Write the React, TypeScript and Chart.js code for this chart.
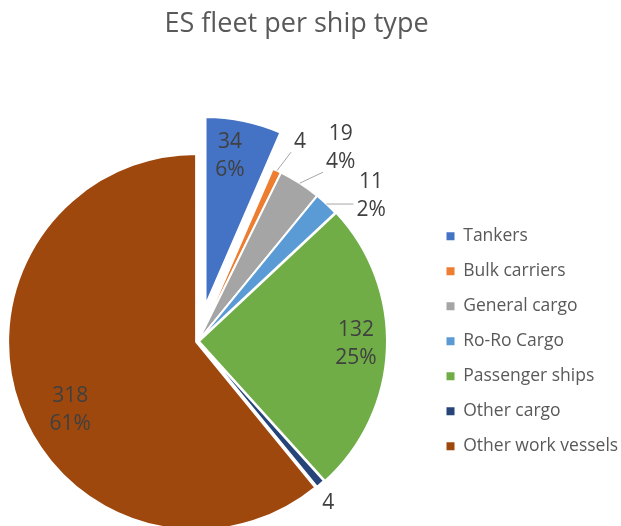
import React, { useEffect, useRef } from "react";
import { Chart, registerables } from "chart.js";

Chart.register(...registerables);

const titleText = "ES fleet per ship type";
const categories = [
  "Tankers",
  "Bulk carriers",
  "General cargo",
  "Ro-Ro Cargo",
  "Passenger ships",
  "Other cargo",
  "Other work vessels",
];
const shipCounts = [34, 4, 19, 11, 132, 4, 318];
const percentLabels = ["6%", "", "4%", "2%", "25%", "", "61%"];
const sliceColors = ["#4472C4", "#ED7D31", "#A5A5A5", "#5B9BD5", "#70AD47", "#264478", "#9E480E"];
const explodeOffsets = [37, 0, 0, 0, 1, 0, 2];
// label placement: radius as fraction of outer radius, angular tweak in degrees, leader line
const labelPlacement = [
  { r: 0.803, da: -2.4, leader: false },
  { r: 1.19, da: 2.3, leader: true },
  { r: 1.277, da: 3.7, leader: true },
  { r: 1.202, da: 6.9, leader: true },
  { r: 0.835, da: -1.3, leader: false },
  { r: 1.106, da: 1.9, leader: false },
  { r: 0.761, da: -8.7, leader: false },
];

const FONT = "'Open Sans', 'Noto Sans', sans-serif";
const CANVAS_W = 621;
const CANVAS_H = 526;
const PIE_CENTER_X = 198;
const LEGEND_LEFT = 429;
const TITLE_CENTER_X = 297;
const TITLE_SIZE = 27;

const explodePlugin = {
  id: "explodeSlices",
  afterDatasetsUpdate(chart: any) {
    const meta = chart.getDatasetMeta(0);
    meta.data.forEach((arc: any, i: number) => {
      const d = explodeOffsets[i];
      if (!d) return;
      const mid = (arc.startAngle + arc.endAngle) / 2;
      arc.x += Math.cos(mid) * d;
      arc.y += Math.sin(mid) * d;
    });
  },
};

const labelPlugin = {
  id: "sliceLabels",
  afterDatasetsDraw(chart: any) {
    const ctx = chart.ctx;
    const meta = chart.getDatasetMeta(0);
    ctx.save();
    ctx.font = `21px ${FONT}`;
    ctx.textAlign = "center";
    ctx.textBaseline = "middle";
    const lh = 28;
    meta.data.forEach((arc: any, i: number) => {
      const spec = labelPlacement[i];
      const { x, y, startAngle, endAngle, outerRadius } = arc;
      const mid = (startAngle + endAngle) / 2;
      const a = mid + (spec.da * Math.PI) / 180;
      const lx = x + Math.cos(a) * spec.r * outerRadius;
      const ly = y + Math.sin(a) * spec.r * outerRadius;
      const lines = [String(shipCounts[i]), percentLabels[i]].filter((t) => t);
      if (spec.leader) {
        const w = Math.max(...lines.map((t) => ctx.measureText(t).width));
        const h = lines.length * lh;
        const bx0 = lx - w / 2 - 3;
        const bx1 = lx + w / 2 + 3;
        const by0 = ly - h / 2 + 4;
        const by1 = ly + h / 2 - 4;
        const sx = x + Math.cos(mid) * outerRadius;
        const sy = y + Math.sin(mid) * outerRadius;
        const ex = Math.min(Math.max(sx, bx0), bx1);
        const ey = Math.min(Math.max(sy, by0), by1);
        ctx.strokeStyle = "#A6A6A6";
        ctx.lineWidth = 1;
        ctx.beginPath();
        ctx.moveTo(sx, sy);
        ctx.lineTo(ex, ey);
        ctx.stroke();
      }
      ctx.fillStyle = "#404040";
      const top = ly - ((lines.length - 1) * lh) / 2;
      lines.forEach((t, k) => ctx.fillText(t, lx, top + k * lh));
    });
    ctx.restore();
  },
};

export default function App() {
  const canvasRef = useRef<HTMLCanvasElement | null>(null);

  useEffect(() => {
    document.body.style.margin = "0";
    const canvas = canvasRef.current;
    if (!canvas) return;
    const baseGen =
      ((Chart as any).overrides.pie?.plugins?.legend?.labels?.generateLabels) ||
      (Chart as any).overrides.doughnut.plugins.legend.labels.generateLabels;

    const gapWidth = LEGEND_LEFT - 2 * PIE_CENTER_X;

    const chart = new Chart(canvas, {
      type: "pie",
      data: {
        labels: categories,
        datasets: [
          {
            data: shipCounts,
            backgroundColor: sliceColors,
            borderColor: "#FFFFFF",
            borderWidth: 2,
            clip: false as any,
          } as any,
        ],
      },
      options: {
        responsive: false,
        animation: false,
        events: [],
        radius: 188,
        layout: { padding: { left: 0, right: 0, top: 0, bottom: 0 } },
        scales: {
          gap: {
            type: "linear",
            axis: "y",
            position: "right",
            display: true,
            grid: { display: false },
            ticks: { display: false },
            border: { display: false },
            afterFit: (s: any) => {
              s.width = gapWidth;
            },
          },
        },
        plugins: {
          title: {
            display: true,
            text: titleText,
            color: "#595959",
            font: { size: TITLE_SIZE, weight: "normal", family: FONT },
            padding: { top: 8.5, bottom: 115.7 },
          },
          legend: {
            position: "right",
            fullSize: false,
            maxWidth: 300,
            labels: {
              boxWidth: 8,
              boxHeight: 8,
              padding: 17.5,
              color: "#595959",
              font: { size: 17.5, family: FONT },
              generateLabels: (c: any) =>
                baseGen(c).map((l: any) => ({ ...l, lineWidth: 0 })),
            },
          },
          tooltip: { enabled: false },
        },
      } as any,
      plugins: [explodePlugin, labelPlugin],
    });

    const lw = (chart as any).legend.width;
    const pr = CANVAS_W - LEGEND_LEFT - lw;
    (chart.options as any).layout.padding = { left: 0, right: pr, top: 0, bottom: 0 };

    // the full-width title band is centred on (0 .. canvas - pr); pad the
    // title with trailing spaces so its visible glyphs sit where the reference has them
    const c2d = canvas.getContext("2d")!;
    c2d.save();
    c2d.font = `${TITLE_SIZE}px ${FONT}`;
    const spaceW = c2d.measureText(" ").width || 7;
    c2d.restore();
    const shift = (CANVAS_W - pr) / 2 - TITLE_CENTER_X;
    const nSpaces = Math.max(0, Math.round((2 * shift) / spaceW));
    (chart.options as any).plugins.title.text = titleText + " ".repeat(nSpaces);
    chart.update();

    return () => chart.destroy();
  }, []);

  return (
    <canvas
      ref={canvasRef}
      width={CANVAS_W}
      height={CANVAS_H}
      style={{ display: "block", width: CANVAS_W, height: CANVAS_H }}
    />
  );
}
